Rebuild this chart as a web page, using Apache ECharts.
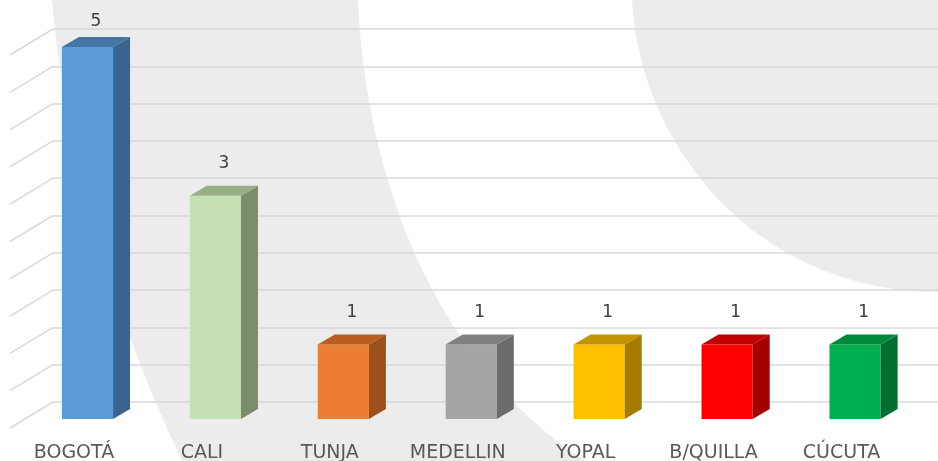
<!DOCTYPE html>
<html>
<head>
<meta charset="utf-8">
<script src="https://cdn.jsdelivr.net/npm/echarts@6/dist/echarts.min.js"></script>
<style>
  html, body { margin: 0; padding: 0; background: #fff; }
  #chart { width: 938px; height: 461px; }
</style>
</head>
<body>
<div id="chart"></div>
<script>
const categories = ['BOGOTÁ', 'CALI', 'TUNJA', 'MEDELLIN', 'YOPAL', 'B/QUILLA', 'CÚCUTA']
const counts = [5, 3, 1, 1, 1, 1, 1]
// gridlines on the back wall (no tick labels shown)
const wallTicks = [0, 0.5, 1, 1.5, 2, 2.5, 3, 3.5, 4, 4.5, 5]

// colours per bar: front / side / top faces
const frontColors = ['#5B9BD5', '#C5E0B4', '#ED7D31', '#A5A5A5', '#FFC000', '#FF0000', '#00B050']
const sideColors = ['#38648F', '#7E8C6E', '#9C501B', '#6B6B6B', '#A47C00', '#A50000', '#006F30']
const topColors = ['#4375A5', '#99AF87', '#B95E1F', '#808080', '#C29200', '#C00000', '#00893B']

const DEPTH_X = 17
const DEPTH_Y = 10

const chart = echarts.init(document.getElementById('chart'))

// sample a cubic bezier into points, for the background shapes
function curve(p0, p1, p2, p3) {
  const pts = []
  for (let i = 0; i <= 30; i++) {
    const t = i / 30
    const a = (1 - t) * (1 - t) * (1 - t)
    const b = 3 * (1 - t) * (1 - t) * t
    const c = 3 * (1 - t) * t * t
    const d = t * t * t
    pts.push([
      a * p0[0] + b * p1[0] + c * p2[0] + d * p3[0],
      a * p0[1] + b * p1[1] + c * p2[1] + d * p3[1]
    ])
  }
  return pts
}

const bandShape = [].concat(
  curve([358, 0], [365, 170], [430, 360], [585, 461]),
  curve([182, 461], [135, 360], [70, 200], [52, 0])
)
const arcShape = curve([632, 0], [640, 150], [760, 292], [938, 292]).concat([[938, 0]])

function renderSideLine(params, api) {
  const p = api.coord([0, api.value(1)])
  return {
    type: 'line',
    shape: { x1: p[0], y1: p[1], x2: p[0] - 43, y2: p[1] + 26 },
    style: { stroke: '#D9D9D9', lineWidth: 1.5 },
    silent: true
  }
}

function renderBar(params, api) {
  const idx = api.value(0)
  const top = api.coord([idx, api.value(1)])
  const base = api.coord([idx, 0])
  const half = api.size([1, 0])[0] * 0.2
  const xl = top[0] - half
  const xr = top[0] + half
  const yt = top[1]
  const yb = base[1]
  const labelY = Math.max(yt - DEPTH_Y - 14, 30)
  return {
    type: 'group',
    children: [
      {
        type: 'rect',
        shape: { x: xl, y: yt, width: xr - xl, height: yb - yt },
        style: { fill: frontColors[idx] }
      },
      {
        type: 'polygon',
        shape: { points: [[xr, yt], [xr + DEPTH_X, yt - DEPTH_Y], [xr + DEPTH_X, yb - DEPTH_Y], [xr, yb]] },
        style: { fill: sideColors[idx] }
      },
      {
        type: 'polygon',
        shape: { points: [[xl, yt], [xl + DEPTH_X, yt - DEPTH_Y], [xr + DEPTH_X, yt - DEPTH_Y], [xr, yt]] },
        style: { fill: topColors[idx] }
      },
      {
        type: 'text',
        style: {
          text: String(api.value(1)),
          x: top[0] + DEPTH_X / 2,
          y: labelY,
          align: 'center',
          verticalAlign: 'bottom',
          fill: '#404040',
          font: '17px "DejaVu Sans"'
        }
      }
    ]
  }
}

const option = {
  animation: false,
  backgroundColor: '#ffffff',
  graphic: [
    {
      type: 'polygon',
      z: -10,
      silent: true,
      shape: { points: bandShape },
      style: { fill: '#ECECEC' }
    },
    {
      type: 'polygon',
      z: -10,
      silent: true,
      shape: { points: arcShape },
      style: { fill: '#ECECEC' }
    }
  ],
  grid: [
    { left: 53, right: 0, top: 29, bottom: 59, outerBoundsMode: 'none' },
    { left: 23.5, right: 19, top: 47, bottom: 42, outerBoundsMode: 'none' }
  ],
  xAxis: [
    { gridIndex: 0, type: 'value', min: 0, max: 1, show: false },
    {
      gridIndex: 1,
      type: 'category',
      data: categories,
      axisLine: { show: false },
      axisTick: { show: false },
      axisLabel: {
        margin: 25,
        padding: [0, 27, 0, 0],
        color: '#595959',
        fontFamily: 'DejaVu Sans',
        fontSize: 19
      }
    }
  ],
  yAxis: [
    {
      gridIndex: 0,
      type: 'value',
      min: 0,
      max: 5,
      interval: 0.5,
      axisLine: { show: false },
      axisTick: { show: false },
      axisLabel: { show: false },
      splitLine: { lineStyle: { color: '#D9D9D9', width: 1.5 } }
    },
    { gridIndex: 1, type: 'value', min: 0, max: 5, show: false }
  ],
  series: [
    {
      type: 'custom',
      xAxisIndex: 0,
      yAxisIndex: 0,
      data: wallTicks.map(v => [0, v]),
      renderItem: renderSideLine,
      silent: true
    },
    {
      type: 'custom',
      xAxisIndex: 1,
      yAxisIndex: 1,
      clip: false,
      data: counts.map((v, i) => [i, v]),
      renderItem: renderBar
    }
  ]
}

chart.setOption(option)
</script>
</body>
</html>
